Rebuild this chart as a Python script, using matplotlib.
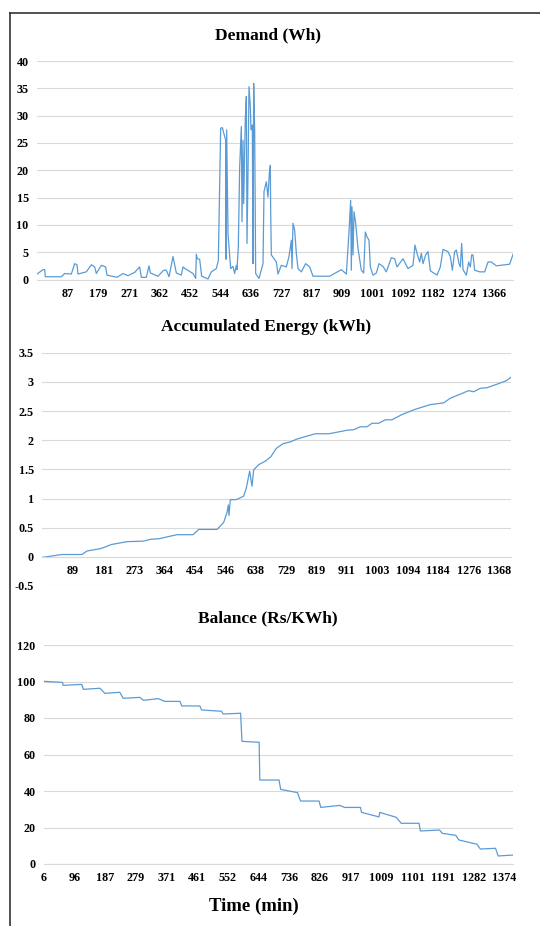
import matplotlib
matplotlib.use("Agg")
import matplotlib.pyplot as plt
from matplotlib.lines import Line2D
from matplotlib.ticker import FuncFormatter

# Demand (Wh) vs time (min)
demand_t = [-6, 12, 17, 19, 67, 77, 97, 107, 114, 117, 142, 157, 167, 172, 187, 200, 204,
            234, 252, 267, 287, 302, 307, 322, 330, 334, 357, 374, 382, 390, 402, 412, 427,
            432, 438, 462, 470, 472, 475, 482, 488, 507, 517, 532, 538, 545, 550, 560, 561,
            563, 567, 575, 582, 587, 592, 594, 598, 602, 607, 609, 612, 614, 619, 622, 624,
            627, 630, 634, 636, 640, 642, 644, 647, 650, 660, 672, 675, 682, 687, 691, 694,
            695, 697, 712, 717, 727, 742, 750, 757, 759, 762, 767, 772, 777, 787, 800, 812,
            822, 872, 907, 922, 930, 935, 937, 939, 942, 945, 950, 957, 967, 974, 979, 984,
            990, 994, 1002, 1012, 1020, 1032, 1042, 1057, 1067, 1074, 1092, 1107, 1122, 1128,
            1134, 1142, 1147, 1152, 1160, 1167, 1174, 1194, 1204, 1212, 1227, 1234, 1240,
            1247, 1252, 1260, 1264, 1268, 1272, 1282, 1289, 1294, 1298, 1302, 1307, 1322,
            1337, 1347, 1357, 1372, 1412, 1422]
demand_v = [1.0, 1.8, 1.8, 0.5, 0.5, 1.1, 1.0, 2.9, 2.7, 1.0, 1.4, 2.7, 2.3, 1.1, 2.6, 2.3, 0.8,
            0.4, 1.1, 0.7, 1.3, 2.3, 0.4, 0.4, 2.5, 1.2, 0.6, 1.7, 1.7, 0.5, 4.2, 1.2, 0.8,
            2.3, 2.0, 1.1, 0.2, 4.6, 3.8, 3.7, 0.6, 0.1, 1.4, 2.0, 3.5, 27.7, 27.8, 25.5, 3.7,
            27.4, 8.4, 2.0, 2.4, 1.1, 2.6, 1.8, 6.0, 20.6, 28.0, 10.6, 25.5, 13.9, 29.5, 33.5, 6.6,
            19.4, 35.3, 31.6, 27.4, 28.3, 2.9, 35.9, 27.4, 1.1, 0.2, 2.9, 16.1, 17.9, 15.1, 19.4, 20.9,
            12.7, 4.5, 3.2, 1.0, 2.6, 2.3, 4.2, 7.2, 2.0, 10.3, 9.0, 4.8, 2.0, 1.4, 2.9, 2.3,
            0.6, 0.6, 1.8, 1.0, 8.7, 14.5, 1.7, 13.3, 4.5, 12.4, 10.3, 5.7, 1.7, 1.2, 8.7, 7.8,
            7.2, 2.3, 0.8, 1.2, 2.9, 2.4, 1.4, 4.0, 3.8, 2.3, 3.8, 2.0, 2.6, 6.3,
            4.8, 3.2, 4.8, 2.9, 4.5, 5.1, 1.6, 0.8, 2.3, 5.5, 5.1, 4.2, 1.7,
            5.1, 5.4, 2.9, 2.3, 6.6, 1.8, 0.8, 3.2, 2.3, 4.5, 4.5, 1.7, 1.4,
            1.4, 3.2, 3.2, 2.5, 2.8, 4.6]
demand_ticks = [87, 179, 271, 362, 452, 544, 636, 727, 817, 909, 1001, 1092, 1182, 1274, 1366]

# Accumulated energy (kWh)
energy_t = [-4, 56, 116, 131, 171, 186, 203, 251, 301, 321, 346, 401, 449, 466, 521, 541, 551,
            555, 557, 561, 579, 601, 609, 619, 626, 631, 646, 666, 683, 699, 719, 741, 761,
            791, 816, 856, 911, 931, 951, 971, 986, 1006, 1026, 1046, 1076, 1116, 1161, 1201,
            1221, 1251, 1276, 1291, 1311, 1331, 1361, 1389, 1403]
energy_v = [-0.01, 0.04, 0.04, 0.10, 0.14, 0.17, 0.21, 0.26, 0.27, 0.30, 0.31, 0.38, 0.38, 0.47,
            0.47, 0.59, 0.76, 0.89, 0.71, 0.98, 0.98, 1.04, 1.18, 1.47, 1.21, 1.49, 1.58, 1.64,
            1.72, 1.86, 1.94, 1.97, 2.02, 2.07, 2.11, 2.11, 2.17, 2.18, 2.23, 2.23, 2.29, 2.29,
            2.35, 2.35, 2.44, 2.53, 2.61, 2.64, 2.72, 2.79, 2.85, 2.83, 2.89, 2.90, 2.96, 3.02, 3.08]
energy_ticks = [89, 181, 273, 364, 454, 546, 638, 729, 819, 911, 1003, 1094, 1184, 1276, 1368]

# Balance (Rs/KWh)
balance_t = [6, 61, 63, 118, 123, 172, 187, 231, 241, 291, 301, 345, 365, 410, 415, 469, 474,
             533, 538, 590, 594, 645, 647, 704, 709, 759, 768, 823, 828, 884, 899, 946, 949,
             1001, 1003, 1052, 1067, 1120, 1124, 1181, 1189, 1229, 1238, 1292, 1302, 1347,
             1355, 1399]
balance_v = [100.1, 99.5, 97.9, 98.4, 95.7, 96.3, 93.5, 94.1, 90.8, 91.3, 89.7, 90.6, 89.1, 89.1,
             86.6, 86.6, 84.4, 83.7, 82.2, 82.6, 67.2, 66.7, 46.0, 46.0, 40.9, 39.1, 34.5, 34.5,
             31.0, 32.1, 31.0, 31.0, 28.3, 25.8, 28.3, 25.6, 22.3, 22.3, 18.1, 18.6, 16.8, 15.7,
             13.2, 10.8, 8.2, 8.6, 4.4, 4.9]
balance_ticks = [6, 96, 187, 279, 371, 461, 552, 644, 736, 826, 917, 1009, 1101, 1191, 1282, 1374]

LINE = "#5B9BD5"
GRID = "#D9D9D9"
FONT = "Liberation Serif"

plt.rcParams["font.family"] = FONT
plt.rcParams["font.weight"] = "bold"

W, H = 540, 926
fig = plt.figure(figsize=(W / 100, H / 100), dpi=100)


def px_axes(left, right, top, bottom):
    return fig.add_axes([left / W, 1 - bottom / H, (right - left) / W, (bottom - top) / H])


def style(ax, t, v, ticks, xlim, ylim, ystep):
    ax.plot(t, v, color=LINE, lw=0.9)
    ax.set_xlim(*xlim)
    ax.set_ylim(*ylim)
    yt = []
    y = ylim[0]
    while y <= ylim[1] + 1e-9:
        yt.append(round(y, 3))
        y += ystep
    ax.set_yticks(yt)
    ax.yaxis.set_major_formatter(FuncFormatter(lambda val, pos: f"{val:g}"))
    ax.set_xticks(ticks)
    ax.set_xticklabels([str(k) for k in ticks])
    ax.grid(axis="y", color=GRID, lw=0.8)
    ax.set_axisbelow(True)
    for s in ["top", "right", "left"]:
        ax.spines[s].set_visible(False)
    ax.spines["bottom"].set_position(("data", 0))
    ax.spines["bottom"].set_color(GRID)
    ax.spines["bottom"].set_linewidth(0.8)
    ax.tick_params(length=0, labelsize=8.7, pad=6)
    for lab in ax.get_xticklabels() + ax.get_yticklabels():
        lab.set_fontweight("bold")


ax1 = px_axes(37, 513, 61, 279.5)
style(ax1, demand_t, demand_v, demand_ticks, (-6, 1422), (0, 40), 5)

ax2 = px_axes(42, 511, 352.7, 586)
style(ax2, energy_t, energy_v, energy_ticks, (-4, 1403), (-0.5, 3.5), 0.5)

ax3 = px_axes(44, 513, 645, 864)
style(ax3, balance_t, balance_v, balance_ticks, (6, 1399), (0, 120), 20)

fig.text(268 / W, 1 - 35 / H, "Demand (Wh)", ha="center", va="center",
         fontsize=12.5, fontweight="bold")
fig.text(266 / W, 1 - 327 / H, "Accumulated Energy (kWh)", ha="center", va="center",
         fontsize=12.5, fontweight="bold")
fig.text(268 / W, 1 - 618 / H, "Balance (Rs/KWh)", ha="center", va="center",
         fontsize=12.5, fontweight="bold")
fig.text(254 / W, 1 - 906 / H, "Time (min)", ha="center", va="center",
         fontsize=13.5, fontweight="bold")

# outer frame (left and top edges)
fig.add_artist(Line2D([10 / W, 10 / W], [0, 1 - 12.5 / H], color="#333333", lw=1.2))
fig.add_artist(Line2D([10 / W, 1], [1 - 12.5 / H, 1 - 12.5 / H], color="#333333", lw=1.2))

fig.savefig("out.png", dpi=100)
